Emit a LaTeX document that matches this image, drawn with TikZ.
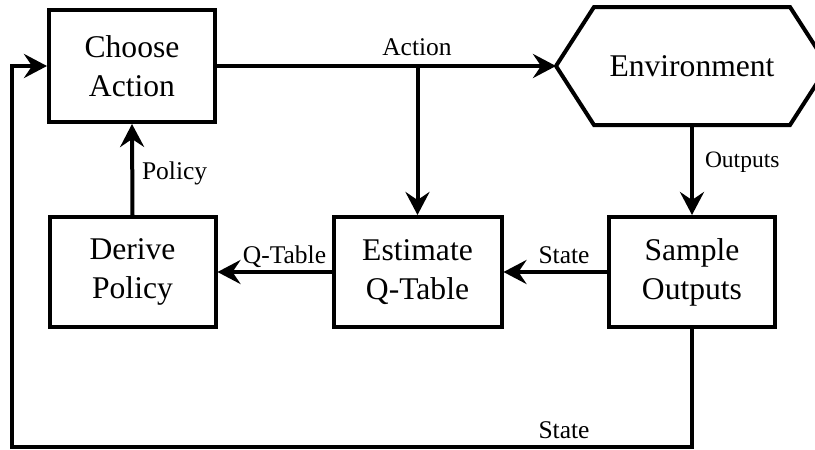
\documentclass[tikz,border=0pt]{standalone}
\usepackage{fontspec}
\setmainfont{Liberation Serif}
\usetikzlibrary{arrows.meta}
\begin{document}
\begin{tikzpicture}[x=1pt,y=-1pt,
  line width=4pt,
  box/.style={draw, line width=4pt, align=center, inner sep=0pt,
    minimum width=166pt, minimum height=110pt,
    font=\fontsize{31.6}{39}\selectfont},
  lab/.style={font=\fontsize{25.5}{30}\selectfont, inner sep=0pt, anchor=base},
  arr/.style={-{Stealth[length=23pt,width=24pt,inset=8pt]}, line width=4pt}
]
\useasboundingbox (0,0) rectangle (815,450);

% process boxes
\node[box, minimum height=112pt] (choose) at (132,66) {Choose\\Action};
\node[box] (derive) at (132.5,272) {Derive\\Policy};
\node[box, minimum width=168pt] (est) at (417.5,272) {Estimate\\Q-Table};
\node[box] (samp) at (692,272) {Sample\\Outputs};

% environment: hexagon drawn around an invisible frame node
\node[inner sep=0pt, minimum width=268pt, minimum height=114pt,
  font=\fontsize{31.6}{39}\selectfont] (env) at (692,66) {Environment};
\draw[line join=miter] (env.west) -- ([xshift=38pt]env.north west)
  -- ([xshift=-38pt]env.north east) -- (env.east)
  -- ([xshift=-38pt]env.south east) -- ([xshift=38pt]env.south west) -- cycle;

% connectors
\draw[arr] (choose.east) -- (env.west);
\draw[arr] (choose.east -| est.north) -- (est.north);
\draw[arr] (env.south) -- (samp.north);
\draw[arr] (samp.west) -- (est.east);
\draw[arr] (est.west) -- (derive.east);
\draw[arr] (derive.north) -- (choose.south);
\coordinate (loop) at (12,447);
\draw[arr, line join=miter] (samp.south) |- (loop) |- (choose.west);

% connector labels
\node[lab] at (417,55) {Action};
\node[lab, anchor=base west, font=\fontsize{23.5}{28}\selectfont] at (703,167) {Outputs};
\node[lab, anchor=base west] at (140,179) {Policy};
\node[lab] at (284.5,263) {Q-Table};
\node[lab] at (564,263) {State};
\node[lab] at (564,438) {State};
\end{tikzpicture}
\end{document}
